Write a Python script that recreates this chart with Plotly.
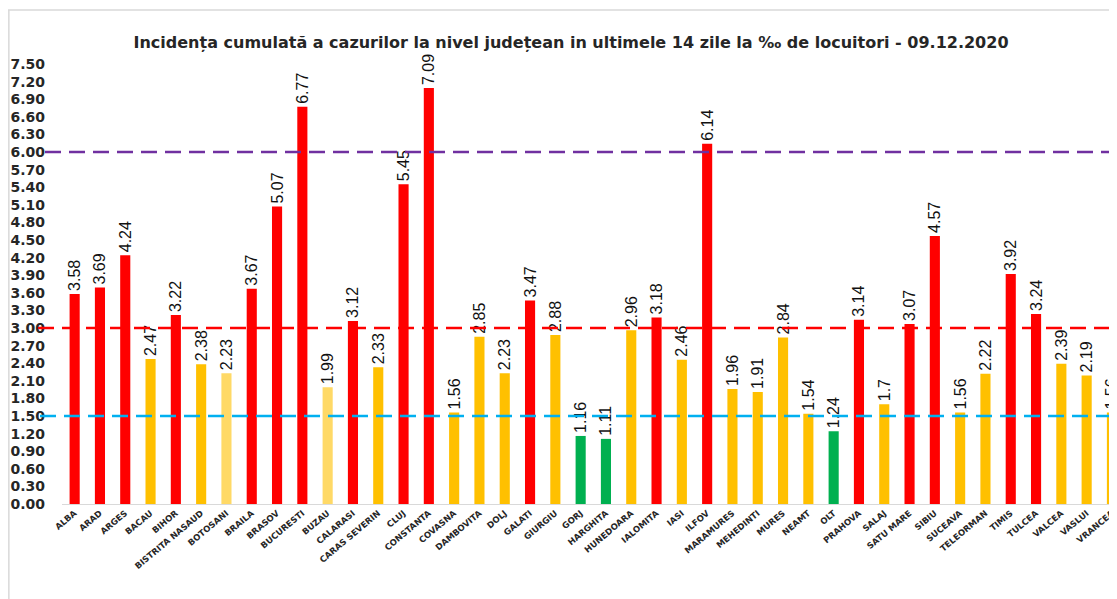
import plotly.graph_objects as go

counties = ["ALBA", "ARAD", "ARGES", "BACAU", "BIHOR", "BISTRITA NASAUD", "BOTOSANI",
            "BRAILA", "BRASOV", "BUCURESTI", "BUZAU", "CALARASI", "CARAS SEVERIN", "CLUJ",
            "CONSTANTA", "COVASNA", "DAMBOVITA", "DOLJ", "GALATI", "GIURGIU", "GORJ",
            "HARGHITA", "HUNEDOARA", "IALOMITA", "IASI", "ILFOV", "MARAMURES", "MEHEDINTI",
            "MURES", "NEAMT", "OLT", "PRAHOVA", "SALAJ", "SATU MARE", "SIBIU", "SUCEAVA",
            "TELEORMAN", "TIMIS", "TULCEA", "VALCEA", "VASLUI", "VRANCEA"]
incidence = [3.58, 3.69, 4.24, 2.47, 3.22, 2.38, 2.23, 3.67, 5.07, 6.77, 1.99, 3.12, 2.33,
             5.45, 7.09, 1.56, 2.85, 2.23, 3.47, 2.88, 1.16, 1.11, 2.96, 3.18, 2.46, 6.14,
             1.96, 1.91, 2.84, 1.54, 1.24, 3.14, 1.7, 3.07, 4.57, 1.56, 2.22, 3.92, 3.24,
             2.39, 2.19, 1.56]
light_counties = ["BOTOSANI", "BUZAU"]
thresholds = {"low": 1.5, "mid": 3.0, "high": 6.0}
tick_vals = [round(i * 0.3, 2) for i in range(26)]
tick_text = ["%.2f" % v for v in tick_vals]

RED, ORANGE, LIGHT, GREEN = "#FF0000", "#FFC000", "#FFD966", "#00B050"

def color_for(name, v):
    if name in light_counties:
        return LIGHT
    if v > thresholds["mid"]:
        return RED
    if v >= thresholds["low"]:
        return ORANGE
    return GREEN

colors = [color_for(n, v) for n, v in zip(counties, incidence)]

# the page body has an 8px margin, so the figure is drawn at (8, 8) in the window
OFF = 8
W, H = 1117 - OFF, 599 - OFF
L, T = 62 - OFF, 64 - OFF
B = H - (504 - OFF)
R = 0
plot_w = W - L - R
plot_h = H - T - B

fig = go.Figure(go.Bar(
    x=counties, y=incidence, marker_color=colors, marker_line_width=0,
    width=0.4,
    text=[str(v) for v in incidence], textposition="outside", textangle=-90,
    constraintext="none",
    textfont=dict(family="Liberation Sans", size=16, color="#111111"),
    cliponaxis=False,
))

line_specs = [(thresholds["high"], "#7030A0", 45), (thresholds["mid"], "#FF0000", 38), (thresholds["low"], "#00B0F0", 40)]
for yv, c, xs in line_specs:
    fig.add_shape(type="line", xref="paper", yref="y", x0=(xs - 62) / plot_w, x1=1.0, y0=yv, y1=yv,
                  line=dict(color=c, width=2.5, dash="16px,8px"), layer="above")

# outer frame (top and left border of the chart area)
fig.add_shape(type="line", xref="paper", yref="paper",
              x0=-L / plot_w, x1=1.0, y0=(H - B - 2) / plot_h, y1=(H - B - 2) / plot_h,
              line=dict(color="#D9D9D9", width=1.5))
fig.add_shape(type="line", xref="paper", yref="paper",
              x0=-L / plot_w + 0.0008, x1=-L / plot_w + 0.0008, y0=-B / plot_h, y1=(H - B - 2) / plot_h,
              line=dict(color="#D9D9D9", width=1.5))

step = 25.3
x_max = -0.5 + plot_w / step

fig.update_layout(
    width=W, height=H,
    margin=dict(l=L, r=R, t=T, b=B, autoexpand=False),
    paper_bgcolor="white", plot_bgcolor="white",
    showlegend=False,
    title=dict(text="Incidența cumulată a cazurilor la nivel județean in ultimele 14 zile la ‰ de locuitori - 09.12.2020",
               x=(571 - OFF) / W, xanchor="center", y=1 - (42 - OFF) / H, yanchor="middle",
               font=dict(family="DejaVu Sans", size=16, color="#262626", weight="bold")),
    xaxis=dict(range=[-0.5, x_max], tickangle=-40, showgrid=False, showline=True,
               linecolor="#D9D9D9", linewidth=1, ticks="",
               tickfont=dict(family="DejaVu Sans", size=8.5, color="#262626", weight="bold")),
    yaxis=dict(range=[0, 7.5], tickvals=tick_vals, ticktext=tick_text, showgrid=False,
               zeroline=False, showline=False, ticks="", ticklabelstandoff=16,
               tickfont=dict(family="DejaVu Sans", size=14, color="#262626", weight="bold")),
)

fig.write_html("out.html")
